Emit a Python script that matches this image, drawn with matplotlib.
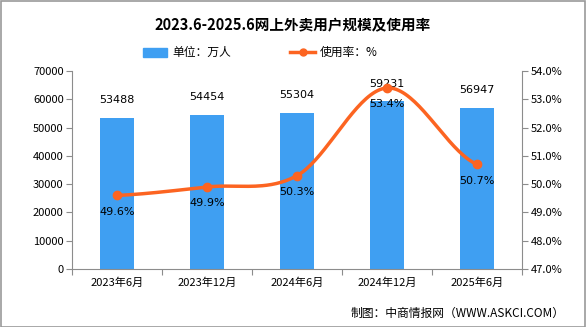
import matplotlib.pyplot as plt
import numpy as np

plt.rcParams['font.family'] = ['Noto Sans CJK SC', 'DejaVu Sans']

categories = ["2023年6月", "2023年12月", "2024年6月", "2024年12月", "2025年6月"]
users = [53488, 54454, 55304, 59231, 56947]
rate = [49.6, 49.9, 50.3, 53.4, 50.7]

bar_color = "#3f9ff2"
line_color = "#fc6421"
axis_color = "#8c8c8c"


def smooth(xs, ys, n=40):
    # Catmull-Rom curve through the data points, only used for drawing the line
    xs = np.asarray(xs, float)
    ys = np.asarray(ys, float)
    px = np.concatenate([[2 * xs[0] - xs[1]], xs, [2 * xs[-1] - xs[-2]]])
    py = np.concatenate([[ys[0]], ys, [ys[-1]]])
    ox, oy = [], []
    t = np.linspace(0, 1, n)
    for i in range(1, len(px) - 2):
        for p, out in ((px, ox), (py, oy)):
            p0, p1, p2, p3 = p[i - 1], p[i], p[i + 1], p[i + 2]
            out.extend(0.5 * ((2 * p1) + (-p0 + p2) * t
                              + (2 * p0 - 5 * p1 + 4 * p2 - p3) * t ** 2
                              + (-p0 + 3 * p1 - 3 * p2 + p3) * t ** 3))
    return ox, oy


fig = plt.figure(figsize=(5.86, 3.27), dpi=100)
ax = fig.add_axes([72 / 586, 58 / 327, 450 / 586, 198 / 327])
ax2 = ax.twinx()

x = np.arange(len(categories))
ax.bar(x, users, width=0.37, color=bar_color, zorder=2)
for xi, v in zip(x, users):
    ax.text(xi, v + 4500, str(v), ha="center", va="bottom", fontsize=8, family="DejaVu Sans")

ax.set_xlim(-0.5, len(categories) - 0.5)
ax.set_ylim(0, 70000)
ax.set_yticks(range(0, 70001, 10000))
ax.set_xticks(np.arange(-0.5, len(categories), 1), minor=False)
ax.set_xticklabels([])
ax.set_xticks(x, minor=True)
ax.set_xticklabels(categories, minor=True, fontsize=8)
ax.tick_params(axis="x", which="minor", length=0, pad=6)
ax.tick_params(axis="x", which="major", length=4, color=axis_color, direction="out")
ax.tick_params(axis="y", length=4, color=axis_color, labelsize=8, pad=2)

sx, sy = smooth(x, rate)
ax2.plot(sx, sy, color=line_color, lw=2.5, zorder=3)
ax2.plot(x, rate, "o", color=line_color, ms=6, zorder=4)
for xi, v in zip(x, rate):
    ax2.text(xi, v - 0.4, f"{v}%", ha="center", va="top", fontsize=8, family="DejaVu Sans")
ax2.set_ylim(47, 54)
ax2.set_yticks(np.arange(47, 54.01, 1))
ax2.set_yticklabels([f"{v:.1f}%" for v in np.arange(47, 54.01, 1)])
ax2.tick_params(axis="y", length=4, color=axis_color, labelsize=8, pad=2)

for a in (ax, ax2):
    a.spines["top"].set_visible(False)
    for s in ("left", "right", "bottom"):
        a.spines[s].set_color(axis_color)
ax.spines["right"].set_visible(False)
ax2.spines["left"].set_visible(False)
ax2.spines["bottom"].set_visible(False)

fig.text(0.5, 1 - 24 / 327, "2023.6-2025.6网上外卖用户规模及使用率", ha="center", va="center",
         fontsize=10.5, fontweight="bold")

# legend
fig.patches.append(plt.Rectangle((143 / 586, 1 - 57 / 327), 24 / 586, 9 / 327,
                                 transform=fig.transFigure, color=bar_color))
fig.text(172 / 586, 1 - 52 / 327, "单位：万人", va="center", fontsize=8.5)
fig.add_artist(plt.Line2D([290 / 586, 315 / 586], [1 - 52 / 327] * 2, color=line_color, lw=2.5,
                          transform=fig.transFigure))
fig.add_artist(plt.Line2D([302.5 / 586], [1 - 52 / 327], color=line_color, marker="o", ms=5,
                          transform=fig.transFigure))
fig.text(320 / 586, 1 - 52 / 327, "使用率：%", va="center", fontsize=8.5)

fig.text(565 / 586, 1 - 313 / 327, "制图：中商情报网（WWW.ASKCI.COM）", ha="right", va="center", fontsize=8.5)

fig.patches.append(plt.Rectangle((0.5 / 586, 0.5 / 327), 584.5 / 586, 325.5 / 327, transform=fig.transFigure,
                                 fill=False, edgecolor="#999999", lw=1.2))

fig.savefig("out.png", dpi=100)
